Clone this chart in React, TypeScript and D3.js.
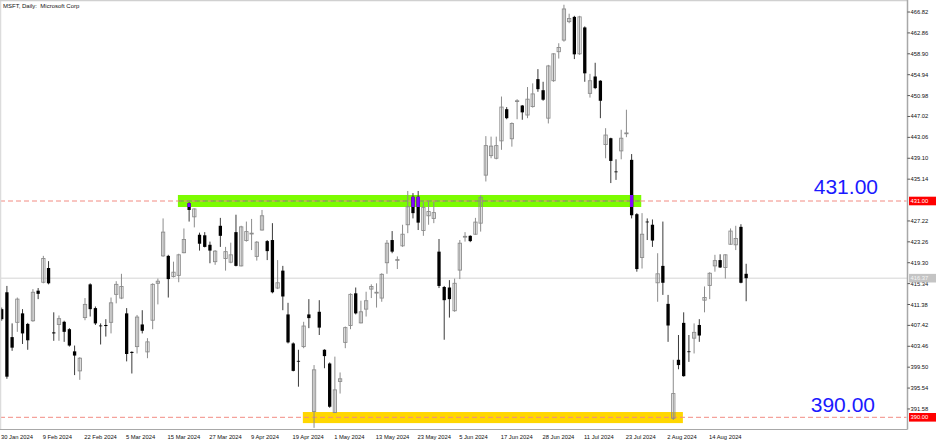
import React, { useEffect, useRef } from 'react';
import * as d3 from 'd3';

const W = 936;
const H = 442;

// trading days shown (US market calendar, 30 Jan - 23 Aug 2024)
const janDays = [30, 31];
const febDays = [1, 2, 5, 6, 7, 8, 9, 12, 13, 14, 15, 16, 20, 21, 22, 23, 26, 27, 28, 29];
const marDays = [1, 4, 5, 6, 7, 8, 11, 12, 13, 14, 15, 18, 19, 20, 21, 22, 25, 26, 27, 28];
const aprDays = [1, 2, 3, 4, 5, 8, 9, 10, 11, 12, 15, 16, 17, 18, 19, 22, 23, 24, 25, 26, 29, 30];
const mayDays = [1, 2, 3, 6, 7, 8, 9, 10, 13, 14, 15, 16, 17, 20, 21, 22, 23, 24, 28, 29, 30, 31];
const junDays = [3, 4, 5, 6, 7, 10, 11, 12, 13, 14, 17, 18, 20, 21, 24, 25, 26, 27, 28];
const julDays = [1, 2, 3, 5, 8, 9, 10, 11, 12, 15, 16, 17, 18, 19, 22, 23, 24, 25, 26, 29, 30, 31];
const augDays = [1, 2, 5, 6, 7, 8, 9, 12, 13, 14, 15, 16, 19, 20, 21, 22, 23];

const pad = (n: number) => (n < 10 ? '0' + n : '' + n);
const tradingDays: string[] = [
  ...janDays.map(d => `2024-01-${pad(d)}`),
  ...febDays.map(d => `2024-02-${pad(d)}`),
  ...marDays.map(d => `2024-03-${pad(d)}`),
  ...aprDays.map(d => `2024-04-${pad(d)}`),
  ...mayDays.map(d => `2024-05-${pad(d)}`),
  ...junDays.map(d => `2024-06-${pad(d)}`),
  ...julDays.map(d => `2024-07-${pad(d)}`),
  ...augDays.map(d => `2024-08-${pad(d)}`),
];

const opens = [
  410.5, 413.7, 405.2, 408.0, 409.7, 407.7, 408.3, 414.0, 415.6, 418.3,
  406.1, 407.6, 408.1, 406.7, 402.5, 398.8, 408.9, 415.2, 410.7, 407.4,
  407.5, 408.0, 413.3, 412.6, 409.7, 402.4, 403.4, 407.6, 402.4, 408.4,
  415.4, 420.6, 420.6, 416.7, 416.9, 421.2, 430.6, 428.0, 424.6, 424.5,
  422.7, 419.5, 426.3, 420.1, 419.4, 425.1, 418.7, 423.5, 424.8, 420.5,
  425.5, 423.4, 423.6, 414.5, 417.8, 409.5, 404.0, 400.7, 403.4, 409.5,
  391.1, 410.0, 402.8, 400.2, 390.9, 396.8, 404.2, 407.4, 413.5, 407.9,
  410.5, 414.3, 413.6, 412.6, 419.3, 423.6, 419.8, 422.5, 426.5, 431.8,
  431.8, 425.4, 428.2, 427.7, 421.4, 414.7, 414.6, 410.2, 417.9, 424.2,
  424.4, 424.7, 426.8, 435.9, 439.6, 439.1, 442.4, 448.4, 442.8, 449.9,
  449.1, 447.3, 448.9, 454.1, 452.0, 446.7, 453.8, 459.3, 461.5, 465.0,
  465.9, 458.9, 463.9, 451.4, 454.6, 453.8, 441.7, 442.9, 436.6, 440.5,
  443.8, 438.8, 428.5, 420.3, 427.1, 426.5, 415.5, 418.7, 411.5, 389.8,
  400.9, 407.9, 402.5, 405.0, 407.5, 412.2, 415.0, 418.7, 419.8, 418.4,
  422.8, 422.7, 426.1, 417.2,
];
const highs = [
  410.8, 414.9, 407.8, 412.7, 410.5, 407.9, 414.3, 414.5, 420.6, 419.6,
  409.9, 409.3, 408.3, 406.9, 403.6, 401.4, 412.6, 415.4, 411.0, 407.8,
  408.6, 412.7, 415.8, 417.2, 410.7, 402.5, 409.4, 410.3, 405.0, 415.4,
  416.3, 427.7, 420.8, 419.5, 421.0, 425.8, 430.8, 429.6, 425.0, 425.1,
  423.3, 421.7, 427.8, 422.3, 423.1, 428.4, 426.3, 427.1, 427.6, 423.4,
  429.3, 423.6, 426.8, 419.8, 418.7, 411.7, 404.2, 402.8, 408.1, 412.4,
  399.9, 412.2, 402.9, 400.4, 401.5, 398.5, 407.2, 413.5, 414.6, 412.1,
  413.8, 415.2, 415.4, 417.3, 423.6, 425.3, 420.5, 426.5, 432.9, 432.5,
  432.9, 430.9, 430.9, 430.9, 423.8, 414.9, 416.0, 416.3, 423.6, 425.1,
  424.5, 427.8, 432.1, 443.3, 443.2, 443.2, 450.8, 448.8, 445.9, 450.3,
  449.2, 452.6, 453.3, 456.0, 453.6, 456.8, 459.0, 460.9, 468.2, 466.5,
  466.1, 466.1, 464.1, 455.1, 457.2, 453.9, 444.8, 443.0, 438.9, 444.5,
  448.3, 439.9, 428.7, 428.7, 427.7, 427.5, 421.1, 427.1, 413.2, 400.9,
  405.6, 409.9, 405.6, 407.8, 408.6, 414.8, 417.5, 420.8, 420.9, 420.9,
  425.8, 426.3, 426.6, 419.1,
];
const lows = [
  408.3, 397.3, 402.6, 406.2, 403.9, 402.8, 408.1, 412.4, 415.4, 415.2,
  404.5, 404.5, 404.3, 403.4, 398.0, 397.1, 408.4, 409.1, 407.5, 403.8,
  405.3, 405.9, 411.6, 412.4, 400.6, 398.3, 402.1, 405.9, 401.2, 406.7,
  411.4, 420.4, 412.7, 416.5, 415.6, 421.1, 427.1, 426.0, 421.6, 422.2,
  419.2, 418.9, 422.3, 417.8, 419.2, 418.6, 418.6, 423.3, 421.7, 419.7,
  425.4, 419.8, 413.5, 414.3, 410.3, 404.0, 398.7, 395.8, 403.1, 406.9,
  388.0, 405.6, 399.3, 391.8, 390.8, 394.5, 403.1, 406.7, 409.5, 407.8,
  409.1, 412.6, 410.8, 411.9, 417.2, 421.1, 418.1, 422.3, 424.9, 427.7,
  425.5, 424.4, 426.5, 426.8, 414.5, 404.7, 408.9, 410.0, 416.2, 423.3,
  423.2, 424.6, 425.2, 434.7, 439.1, 438.9, 440.7, 446.5, 441.3, 446.5,
  446.4, 446.7, 448.7, 451.7, 450.0, 445.7, 453.6, 458.0, 461.2, 464.7,
  457.9, 458.7, 453.6, 450.6, 452.2, 446.7, 439.1, 434.4, 435.0, 438.9,
  443.1, 427.7, 417.6, 418.2, 423.6, 422.3, 411.9, 413.2, 404.3, 389.5,
  399.1, 397.7, 400.5, 402.1, 404.3, 409.9, 412.4, 417.6, 418.3, 416.3,
  422.7, 421.7, 415.4, 412.0,
];
const closes = [
  408.6, 397.7, 403.2, 412.4, 405.9, 404.6, 413.7, 413.4, 420.1, 415.4,
  405.9, 408.7, 406.2, 403.6, 401.7, 401.2, 411.4, 410.5, 407.8, 407.3,
  407.3, 411.7, 415.2, 414.8, 402.0, 402.2, 409.0, 406.4, 404.3, 415.2,
  415.8, 425.1, 416.2, 417.5, 420.8, 423.7, 429.3, 429.5, 422.9, 422.3,
  421.6, 421.5, 424.4, 421.4, 420.8, 418.7, 426.1, 425.2, 424.9, 423.2,
  428.2, 421.5, 413.7, 415.5, 412.9, 404.2, 398.8, 400.6, 407.3, 408.8,
  399.0, 407.0, 401.6, 392.0, 395.2, 397.3, 407.0, 413.3, 409.7, 410.0,
  412.1, 414.8, 413.7, 417.1, 423.0, 421.4, 419.9, 424.7, 429.9, 428.7,
  426.9, 429.8, 429.0, 428.8, 414.9, 412.2, 412.4, 415.4, 423.0, 424.3,
  423.4, 427.0, 431.7, 441.5, 441.4, 441.5, 448.8, 446.7, 445.7, 450.0,
  447.8, 450.3, 451.3, 452.2, 450.2, 456.6, 458.9, 460.1, 467.4, 465.6,
  458.8, 465.9, 455.2, 453.8, 452.4, 450.0, 443.5, 438.6, 436.5, 442.9,
  443.9, 428.3, 418.1, 424.7, 427.0, 423.5, 417.2, 415.5, 407.4, 394.5,
  399.9, 397.8, 402.4, 406.1, 405.5, 412.7, 417.3, 419.7, 418.4, 420.8,
  425.3, 423.9, 415.5, 416.37,
];

// price axis labels (431.18 is hidden behind the 431.00 marker)
const priceTicks = [
  466.82, 462.86, 458.90, 454.94, 450.98, 447.02, 443.06, 439.10, 435.14,
  427.22, 423.26, 419.30, 415.34, 411.38, 407.42, 403.46, 399.50, 395.54, 391.58,
];

const dateTicks = [
  '2024-01-30', '2024-02-09', '2024-02-22', '2024-03-05', '2024-03-15', '2024-03-27',
  '2024-04-09', '2024-04-19', '2024-05-01', '2024-05-13', '2024-05-23', '2024-06-05',
  '2024-06-17', '2024-06-28', '2024-07-11', '2024-07-23', '2024-08-02', '2024-08-14',
];

const levels = [431.0, 390.0];
const bidPrice = 416.37;

const greenZone = { from: '2024-03-19', to: '2024-07-26', top: 432.14, bottom: 429.86 };
const yellowZone = { from: '2024-04-23', to: '2024-08-07', top: 391.0, bottom: 388.9 };

const FONT = '"Liberation Sans", Arial, sans-serif';

const App: React.FC = () => {
  const chartRef = useRef<SVGSVGElement | null>(null);

  useEffect(() => {
    if (!chartRef.current) return;
    const svg = d3.select(chartRef.current);
    svg.selectAll('*').remove();

    const plotRight = 907.5;
    const plotBottom = 429.5;
    const step = 5.206;
    const firstCenter = 1.7;

    const x = d3.scaleBand<string>()
      .domain(tradingDays)
      .range([firstCenter - step / 2, firstCenter - step / 2 + step * tradingDays.length])
      .padding(0);
    const cx = (d: string) => (x(d) as number) + x.bandwidth() / 2;

    const y = d3.scaleLinear().domain([390, 431]).range([417.3, 201]);

    const candles = tradingDays.map((d, i) => ({
      date: d, o: opens[i], h: highs[i], l: lows[i], c: closes[i],
    }));

    svg.append('rect').attr('width', W).attr('height', H).attr('fill', '#ffffff');

    // zones
    [{ z: greenZone, color: '#7cfc00' }, { z: yellowZone, color: '#ffd700' }].forEach(({ z, color }) => {
      svg.append('rect')
        .attr('x', cx(z.from) - 0.8)
        .attr('y', y(z.top))
        .attr('width', cx(z.to) - cx(z.from))
        .attr('height', y(z.bottom) - y(z.top))
        .attr('fill', color);
    });

    // level lines
    levels.forEach(lv => {
      svg.append('line')
        .attr('x1', 0).attr('x2', plotRight - 1)
        .attr('y1', y(lv)).attr('y2', y(lv))
        .attr('stroke', '#f28b82').attr('stroke-width', 1)
        .attr('stroke-dasharray', '5,3');
    });
    svg.append('line')
      .attr('x1', cx(greenZone.from)).attr('x2', cx(greenZone.to))
      .attr('y1', y(431)).attr('y2', y(431))
      .attr('stroke', '#7d8a6a').attr('stroke-width', 1)
      .attr('stroke-dasharray', '5,3');

    // bid line
    svg.append('line')
      .attr('x1', 0).attr('x2', plotRight)
      .attr('y1', y(bidPrice)).attr('y2', y(bidPrice))
      .attr('stroke', '#d4d4d4').attr('stroke-width', 1);

    // candles
    const bw = 3.3;
    const g = svg.append('g');
    g.selectAll('line.wick')
      .data(candles)
      .enter().append('line')
      .attr('class', 'wick')
      .attr('x1', d => cx(d.date)).attr('x2', d => cx(d.date))
      .attr('y1', d => y(d.h)).attr('y2', d => y(d.l))
      .attr('stroke', d => (d.c >= d.o ? '#8c8c8c' : '#3a3a3a'))
      .attr('stroke-width', 1);

    g.selectAll('rect.body')
      .data(candles)
      .enter().append('rect')
      .attr('class', 'body')
      .attr('x', d => cx(d.date) - bw / 2)
      .attr('y', d => y(Math.max(d.o, d.c)))
      .attr('width', bw)
      .attr('height', d => Math.max(0.8, y(Math.min(d.o, d.c)) - y(Math.max(d.o, d.c))))
      .attr('fill', d => (d.c >= d.o ? 'none' : '#000000'))
      .attr('stroke', d => (d.c >= d.o ? '#8c8c8c' : 'none'))
      .attr('stroke-width', 0.9);

    // bear bodies inside the green zone are drawn inverted
    const gx0 = cx(greenZone.from) - 0.8;
    const gx1 = cx(greenZone.to) - 0.8;
    candles.forEach(d => {
      if (d.c >= d.o) return;
      const c0 = cx(d.date);
      if (c0 < gx0 || c0 > gx1) return;
      const top = Math.min(d.o, greenZone.top);
      const bot = Math.max(d.c, greenZone.bottom);
      if (top <= bot) return;
      g.append('rect')
        .attr('x', c0 - bw / 2).attr('y', y(top))
        .attr('width', bw).attr('height', y(bot) - y(top))
        .attr('fill', '#8303ff');
    });

    // frame
    svg.append('line').attr('x1', 0.5).attr('x2', 0.5).attr('y1', 0).attr('y2', plotBottom)
      .attr('stroke', '#dcdcdc').attr('stroke-width', 1.5);
    svg.append('line').attr('x1', 0).attr('x2', plotRight).attr('y1', 0.5).attr('y2', 0.5)
      .attr('stroke', '#d0d0d0').attr('stroke-width', 1.5);
    svg.append('line').attr('x1', plotRight).attr('x2', plotRight).attr('y1', 0).attr('y2', plotBottom)
      .attr('stroke', '#a8a8a8').attr('stroke-width', 1.5);
    svg.append('line').attr('x1', 0).attr('x2', plotRight).attr('y1', plotBottom).attr('y2', plotBottom)
      .attr('stroke', '#a8a8a8').attr('stroke-width', 1);

    // price axis
    const ay = svg.append('g');
    priceTicks.forEach(p => {
      ay.append('line').attr('x1', plotRight).attr('x2', plotRight + 2.5)
        .attr('y1', y(p)).attr('y2', y(p)).attr('stroke', '#333').attr('stroke-width', 0.8);
      ay.append('text')
        .attr('x', plotRight + 3).attr('y', y(p))
        .attr('dominant-baseline', 'central')
        .style('font-family', FONT).style('font-size', '5.8px').style('fill', '#111')
        .text(p.toFixed(2));
    });

    const priceBox = (p: number, bg: string, fg: string) => {
      ay.append('rect').attr('x', plotRight + 1.5).attr('y', y(p) - 4.3)
        .attr('width', W - plotRight - 1.5).attr('height', 8.6).attr('fill', bg);
      ay.append('text')
        .attr('x', plotRight + 3).attr('y', y(p))
        .attr('dominant-baseline', 'central')
        .style('font-family', FONT).style('font-size', '5.8px').style('fill', fg)
        .text(p.toFixed(2));
    };
    levels.forEach(lv => priceBox(lv, '#ff0000', '#ffffff'));
    priceBox(bidPrice, '#c4c4c4', '#f4f4f4');

    // time axis
    const fmt = d3.timeFormat('%-d %b %Y');
    const parse = d3.timeParse('%Y-%m-%d');
    dateTicks.forEach(d => {
      svg.append('text')
        .attr('x', cx(d) - 0.7).attr('y', 438.5)
        .style('font-family', FONT).style('font-size', '5.8px').style('fill', '#111')
        .text(fmt(parse(d) as Date));
    });

    // title
    svg.append('text')
      .attr('x', 3).attr('y', 8)
      .attr('xml:space', 'preserve')
      .style('white-space', 'pre')
      .style('font-family', FONT).style('font-size', '6px').style('fill', '#111')
      .text('MSFT, Daily:  Microsoft Corp');

    // level captions
    svg.append('text')
      .attr('x', 878).attr('y', y(431) - 7.5)
      .attr('text-anchor', 'end')
      .style('font-family', FONT).style('font-size', '21px').style('fill', '#1a1aff')
      .text('431.00');
    svg.append('text')
      .attr('x', 875).attr('y', y(390) - 5.5)
      .attr('text-anchor', 'end')
      .style('font-family', FONT).style('font-size', '21px').style('fill', '#1a1aff')
      .text('390.00');
  }, []);

  return (
    <svg
      ref={chartRef}
      width={W}
      height={H}
      style={{ position: 'absolute', left: 0, top: 0, display: 'block' }}
    />
  );
};

export default App;
